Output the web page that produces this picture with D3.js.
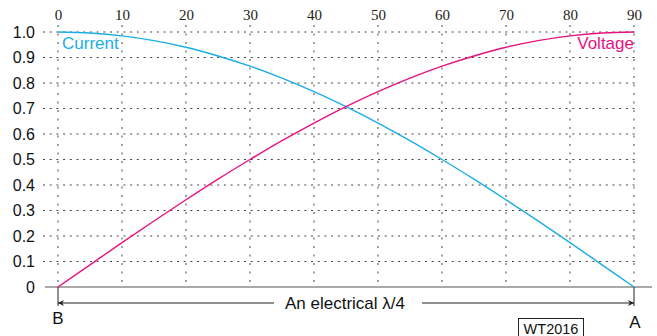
<!DOCTYPE html>
<html><head><meta charset="utf-8">
<script src="https://cdn.jsdelivr.net/npm/d3@7"></script>
<style>body{margin:0;background:#fff}svg{display:block}</style>
</head><body>
<script>
const angles = [0,5,10,15,20,25,30,35,40,45,50,55,60,65,70,75,80,85,90];
const current = [1.0,0.996,0.985,0.966,0.94,0.906,0.866,0.819,0.766,0.707,0.643,0.574,0.5,0.423,0.342,0.259,0.174,0.087,0.0];
const voltage = [0.0,0.087,0.174,0.259,0.342,0.423,0.5,0.574,0.643,0.707,0.766,0.819,0.866,0.906,0.94,0.966,0.985,0.996,1.0];
const xTicks = [0,10,20,30,40,50,60,70,80,90];
const yTicks = [0,0.1,0.2,0.3,0.4,0.5,0.6,0.7,0.8,0.9,1.0];
const yTickLabels = ["0","0.1","0.2","0.3","0.4","0.5","0.6","0.7","0.8","0.9","1.0"];

const W=657,H=336;
const svg=d3.select("body").append("svg").attr("width",W).attr("height",H);
const x=d3.scaleLinear().domain([0,90]).range([58,634]);
const y=d3.scaleLinear().domain([0,1]).range([287,32]);
const grid="#444";
const sans="'Liberation Sans', Arial, sans-serif";

// horizontal dotted gridlines
svg.append("g").selectAll("line").data(yTicks.filter(d=>d>0)).join("line")
  .attr("x1",43).attr("x2",636).attr("y1",d=>y(d)).attr("y2",d=>y(d))
  .attr("stroke",grid).attr("stroke-width",1).attr("stroke-dasharray","2,4.7");
// vertical dotted gridlines
svg.append("g").selectAll("line").data(xTicks).join("line")
  .attr("x1",d=>x(d)).attr("x2",d=>x(d)).attr("y1",25).attr("y2",284)
  .attr("stroke",grid).attr("stroke-width",1).attr("stroke-dasharray","2,6.5");

// top axis labels
const xAxis=d3.axisTop(x).tickValues(xTicks).tickSize(0).tickPadding(0).tickFormat(d3.format("d"));
const gx=svg.append("g").attr("transform","translate(0,20)").call(xAxis);
gx.select(".domain").remove();
gx.selectAll("text").attr("font-family","'Liberation Serif', 'DejaVu Serif', serif").attr("font-size",15).attr("fill","#222").attr("dy",0);

// left axis labels
const yAxis=d3.axisLeft(y).tickValues(yTicks).tickSize(0).tickPadding(0).tickFormat((d,i)=>yTickLabels[i]);
const gy=svg.append("g").attr("transform","translate(35,0)").call(yAxis);
gy.select(".domain").remove();
gy.selectAll("text").attr("font-family",sans).attr("font-size",16).attr("fill","#111");

// baseline
svg.append("line").attr("x1",45).attr("x2",652).attr("y1",y(0)).attr("y2",y(0)).attr("stroke","#555").attr("stroke-width",1.2);
// end ticks
[0,90].forEach(v=>svg.append("line").attr("x1",x(v)).attr("x2",x(v)).attr("y1",y(0)).attr("y2",306).attr("stroke","#222").attr("stroke-width",1));

// curves
const line=d3.line().x((d,i)=>x(angles[i])).y(d=>y(d)).curve(d3.curveMonotoneX);
svg.append("path").datum(current).attr("d",line).attr("fill","none").attr("stroke","#1aaee6").attr("stroke-width",1.4);
svg.append("path").datum(voltage).attr("d",line).attr("fill","none").attr("stroke","#e6137f").attr("stroke-width",1.4);

svg.append("text").attr("x",x(0)+4).attr("y",49).text("Current").attr("fill","#1aaee6")
  .attr("font-family",sans).attr("font-size",17);
svg.append("text").attr("x",x(90)).attr("y",49).attr("text-anchor","end").text("Voltage").attr("fill","#e6137f")
  .attr("font-family",sans).attr("font-size",17);

// dimension arrow
const ay=303;
const defs=svg.append("defs");
defs.append("marker").attr("id","ah").attr("viewBox","0 0 10 10").attr("refX",10).attr("refY",5)
  .attr("markerWidth",10).attr("markerHeight",6).attr("markerUnits","userSpaceOnUse").attr("orient","auto-start-reverse")
  .append("path").attr("d","M0,0 L10,5 L0,10 L3,5 Z").attr("fill","#222");
svg.append("line").attr("x1",x(0)).attr("x2",274).attr("y1",ay).attr("y2",ay).attr("stroke","#222").attr("stroke-width",1).attr("marker-start","url(#ah)");
svg.append("line").attr("x1",422).attr("x2",x(90)).attr("y1",ay).attr("y2",ay).attr("stroke","#222").attr("stroke-width",1).attr("marker-end","url(#ah)");
svg.append("text").attr("x",345).attr("y",ay+6).attr("text-anchor","middle").text("An electrical λ/4")
  .attr("font-family",sans).attr("font-size",17).attr("fill","#111");

svg.append("text").attr("x",x(0)).attr("y",324).attr("text-anchor","middle").text("B")
  .attr("font-family",sans).attr("font-size",17).attr("fill","#111");
svg.append("text").attr("x",x(90)+1).attr("y",328).attr("text-anchor","middle").text("A")
  .attr("font-family",sans).attr("font-size",17).attr("fill","#111");

svg.append("rect").attr("x",518.5).attr("y",318.5).attr("width",65).attr("height",22).attr("fill","none").attr("stroke","#222").attr("stroke-width",1);
svg.append("text").attr("x",551).attr("y",334).attr("text-anchor","middle").text("WT2016")
  .attr("font-family",sans).attr("font-size",14.5).attr("fill","#111");
</script>
</body></html>
